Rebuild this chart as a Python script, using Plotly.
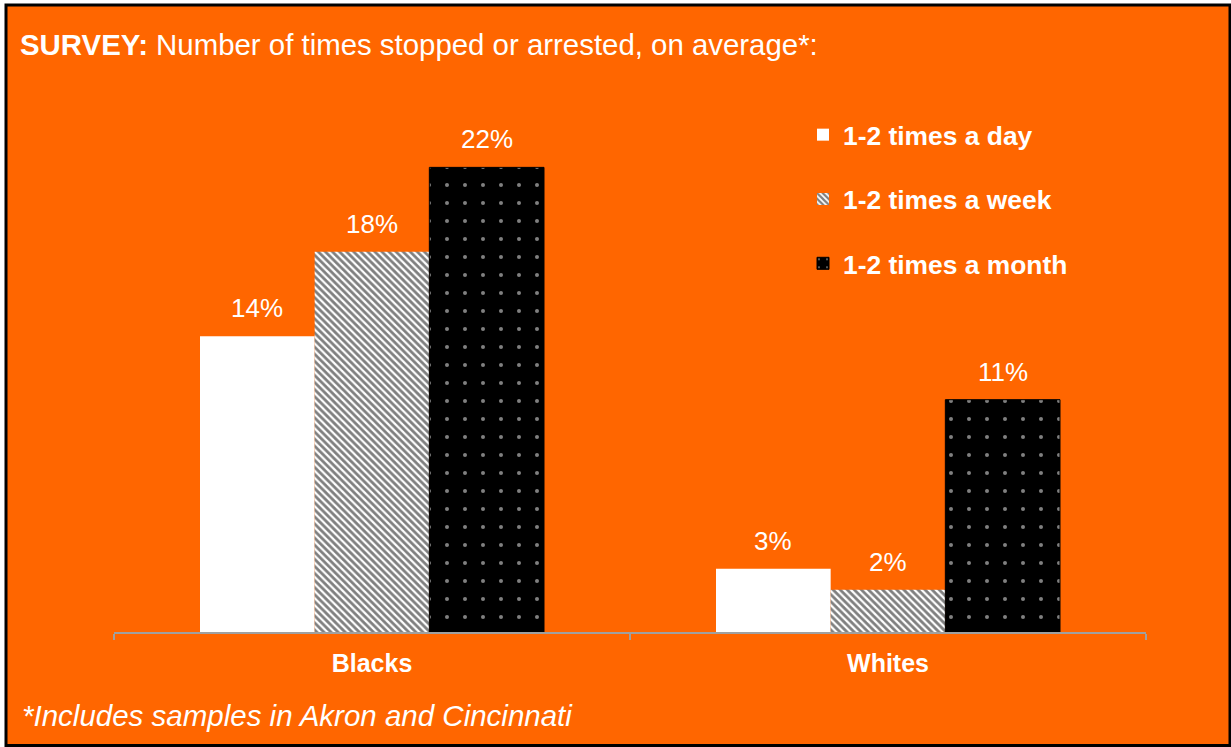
import plotly.graph_objects as go

# Survey results: share of respondents by stop/arrest frequency
groups = ["Blacks", "Whites"]
series_names = ["1-2 times a day", "1-2 times a week", "1-2 times a month"]
day_values = [14, 3]
week_values = [18, 2]
month_values = [22, 11]

title_text = "<b>SURVEY:</b> Number of times stopped or arrested, on average*:"
footnote_text = "*Includes samples in Akron and Cincinnati"

ORANGE = "#FF6600"
FONT = "Liberation Sans, Arial, Helvetica, sans-serif"

W, H = 1231, 747
ML, MR, MT, MB = 114, 85, 104, 115
PW, PH = W - ML - MR, H - MT - MB


def px_x(p):
    return (p - ML) / PW


def px_y(p):
    return (H - MB - p) / PH


styles = [
    dict(color="white", line="white",
         pattern=dict(shape="")),
    dict(color="white", line="white",
         pattern=dict(shape="\\", fgcolor="black", bgcolor="white",
                      size=5, solidity=0.55, fillmode="overlay")),
    dict(color="black", line="black",
         pattern=dict(shape=".", fgcolor="white", bgcolor="black",
                      size=18, solidity=0.04, fillmode="overlay")),
]

fig = go.Figure()
all_values = [day_values, week_values, month_values]
for i, (name, vals) in enumerate(zip(series_names, all_values)):
    fig.add_trace(go.Bar(
        x=groups, y=vals, name=name,
        marker=dict(color=styles[i]["color"], pattern=styles[i]["pattern"],
                    line=dict(width=1 if i == 2 else 0, color=styles[i]["line"])),
        legendgroup=f"g{i}",
        hoverinfo="skip",
    ))

# value labels above each bar
bargap = 1 / 3
bar_w = (1 - bargap) / len(series_names)
annotations = []
for i, vals in enumerate(all_values):
    for g, v in enumerate(vals):
        annotations.append(dict(
            x=g + (i - 1) * bar_w, y=v, xref="x", yref="y",
            text=f"{v}%", showarrow=False, yanchor="bottom", yshift=11,
            font=dict(family=FONT, size=26, color="white"),
        ))

annotations.append(dict(
    x=px_x(20), y=px_y(715), xref="paper", yref="paper",
    xanchor="left", yanchor="middle", showarrow=False,
    text=f"<i>{footnote_text}</i>",
    font=dict(family=FONT, size=29.5, color="white"),
))

shapes = [dict(
    type="rect", xref="paper", yref="paper", layer="below",
    x0=px_x(6), x1=px_x(1230), y0=px_y(5), y1=px_y(745.5),
    fillcolor=ORANGE, line=dict(color="black", width=3),
)]

fig.update_layout(
    width=W, height=H,
    margin=dict(l=ML, r=MR, t=MT, b=MB),
    paper_bgcolor="white",
    plot_bgcolor="rgba(0,0,0,0)",
    barmode="group", bargap=bargap, bargroupgap=0,
    font=dict(family=FONT, color="white"),
    title=dict(text=title_text, xref="container", yref="container",
               x=20 / W, xanchor="left", y=1 - 45 / H, yanchor="middle",
               font=dict(family=FONT, size=29.4, color="white")),
    xaxis=dict(showline=True, linecolor="#A0A0A0", linewidth=2,
               ticks="outside", tickson="boundaries", ticklen=6, tickwidth=2,
               tickcolor="#A0A0A0", showgrid=False, ticklabelstandoff=8,
               tickfont=dict(family=FONT, size=25, color="white", weight="bold")),
    yaxis=dict(range=[0, 25], visible=False, showgrid=False, zeroline=False),
    legend=dict(x=px_x(803), xanchor="left", y=px_y(111), yanchor="top",
                font=dict(family=FONT, size=26.4, color="white", weight="bold"),
                bgcolor="rgba(0,0,0,0)", tracegroupgap=27, itemwidth=30,
                traceorder="grouped"),
    annotations=annotations,
    shapes=shapes,
)

fig.write_html("out.html")
